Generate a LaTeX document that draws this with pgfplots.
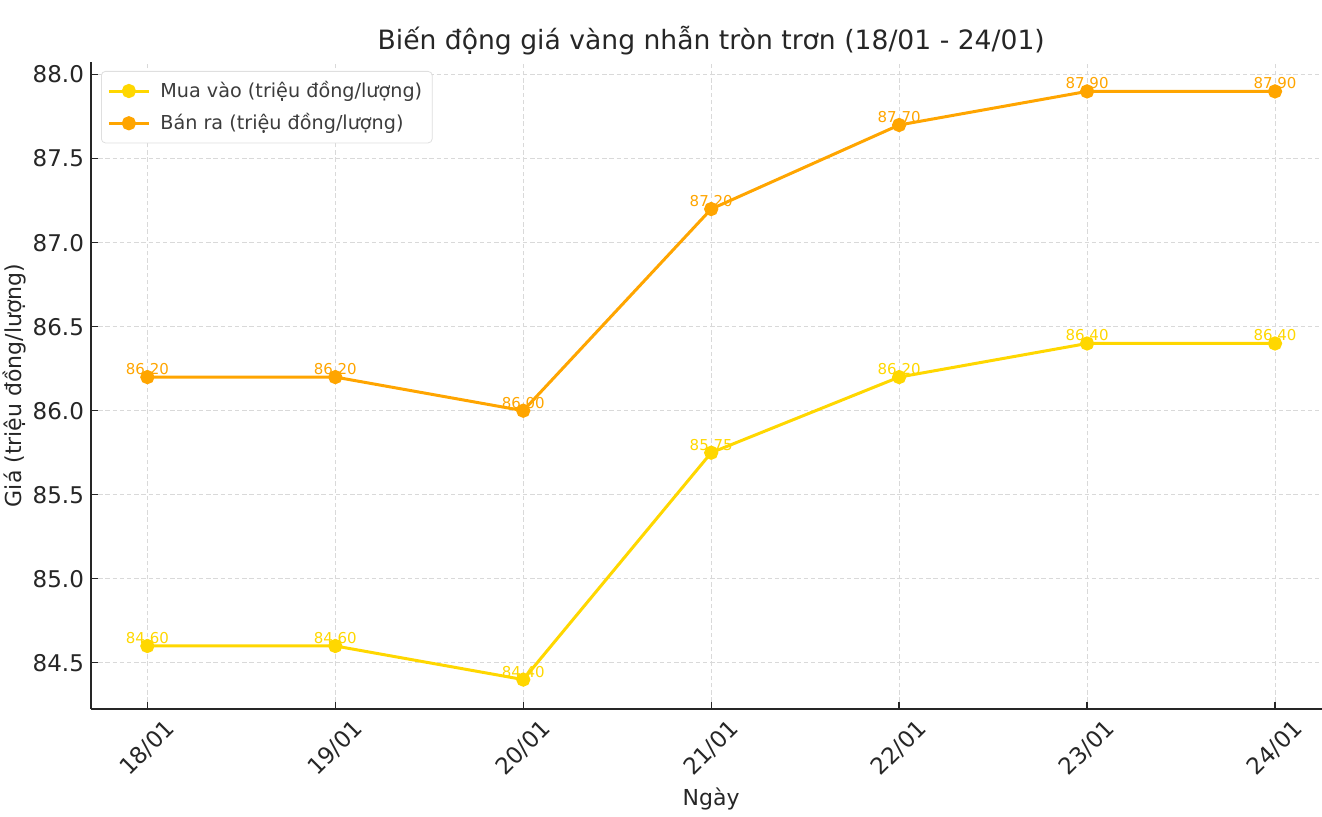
\documentclass[border=0pt]{standalone}
\usepackage{fontspec}
\setmainfont{DejaVu Sans}
\usepackage{pgfplots}
\pgfplotsset{compat=1.18}
\definecolor{mua}{HTML}{FFD700}
\definecolor{ban}{HTML}{FFA500}
\definecolor{spine}{HTML}{262626}
\begin{document}
\begin{tikzpicture}
\path[use as bounding box] (-45.5pt,-54pt) rectangle (615.5pt,354.5pt);
\begin{axis}[
  at={(0,0)}, anchor=south west,
  scale only axis, width=615.5pt, height=323.5pt,
  xmin=-0.3, xmax=6.25, ymin=84.225, ymax=88.075,
  axis lines*=left,
  axis line style={-, line width=0.8pt, color=spine},
  tick align=inside, major tick length=3.5pt,
  tick style={line width=0.7pt, color=spine},
  xtick={0,1,2,3,4,5,6},
  xticklabels={18/01,19/01,20/01,21/01,22/01,23/01,24/01},
  ytick={84.5,85,85.5,86,86.5,87,87.5,88},
  yticklabel style={/pgf/number format/fixed, /pgf/number format/fixed zerofill, /pgf/number format/precision=1},
  /pgf/number format/assume math mode=true,
  ticklabel style={font=\fontsize{11.5}{13}\selectfont, color=spine},
  xticklabel style={rotate=45, anchor=center},
  xticklabel shift=19.5pt,
  grid=major,
  major grid style={color=gray!30, line width=0.5pt, dash pattern=on 2.2pt off 1.4pt},
  title={Biến động giá vàng nhẫn tròn trơn (18/01 - 24/01)},
  title style={at={([yshift=4.5pt]axis cs:3,88.075)}, anchor=center, font=\fontsize{13.3}{16}\selectfont, color=spine},
  xlabel={Ngày},
  xlabel style={at={([yshift=-45pt]axis cs:3,84.225)}, anchor=center, font=\fontsize{11}{13}\selectfont, color=spine},
  ylabel={Giá (triệu đồng/lượng)},
  ylabel style={at={([xshift=-38.5pt]rel axis cs:0,0.5)}, anchor=center, font=\fontsize{11}{13}\selectfont, color=spine},
  legend style={at={([xshift=5pt,yshift=-4.5pt]rel axis cs:0,1)}, anchor=north west,
    draw=gray!25, rounded corners=2pt, font=\fontsize{9.6}{11.5}\selectfont, text=spine!90,
    row sep=2.5pt, column sep=3pt, inner xsep=3pt, inner ysep=3pt},
  legend cell align=left,
  legend image code/.code={
    \draw[#1, mark=none] (0pt,0pt) -- (20pt,0pt);
    \draw[#1, only marks] plot coordinates {(10pt,0pt)};
  },
  nodes near coords,
  nodes near coords style={font=\fontsize{7.5}{9}\selectfont, anchor=center, yshift=4pt,
    /pgf/number format/fixed, /pgf/number format/fixed zerofill, /pgf/number format/precision=2},
]
\addplot[color=mua, line width=1.5pt, mark=*, mark size=2.8pt, mark options={solid},
  every node near coord/.append style={text=mua}]
  coordinates {(0,84.60) (1,84.60) (2,84.40) (3,85.75) (4,86.20) (5,86.40) (6,86.40)};
\addlegendentry{Mua vào (triệu đồng/lượng)}
\addplot[color=ban, line width=1.5pt, mark=*, mark size=2.8pt, mark options={solid},
  every node near coord/.append style={text=ban}]
  coordinates {(0,86.20) (1,86.20) (2,86.00) (3,87.20) (4,87.70) (5,87.90) (6,87.90)};
\addlegendentry{Bán ra (triệu đồng/lượng)}
\end{axis}
\end{tikzpicture}
\end{document}
